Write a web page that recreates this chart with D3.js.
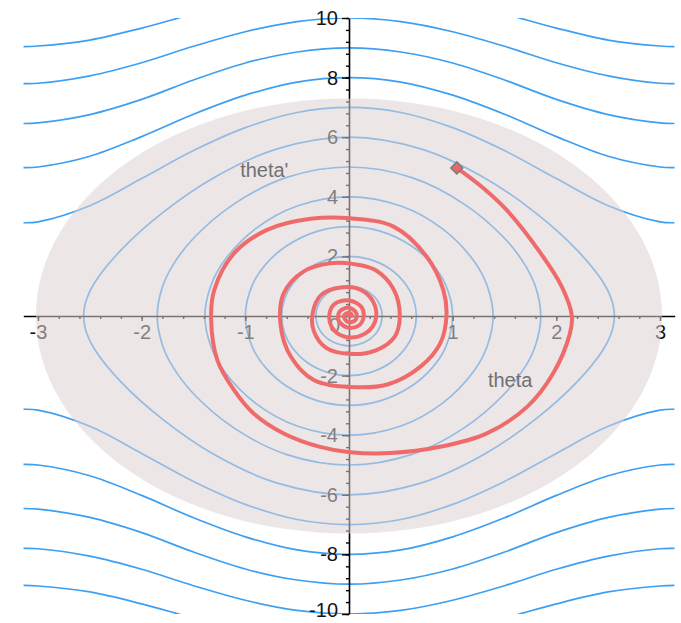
<!DOCTYPE html>
<html>
<head>
<meta charset="utf-8">
<script src="https://cdn.jsdelivr.net/npm/d3@7"></script>
<style>
  html, body { margin: 0; padding: 0; background: #fff; }
  svg { display: block; }
  text { font-family: "Liberation Sans", Arial, sans-serif; }
</style>
</head>
<body>
<svg width="681" height="623"></svg>
<script>
// tick values on the two axes
const xTicks = [-3, -2, -1, 1, 2, 3];
const yTicks = [-10, -8, -6, -4, -2, 2, 4, 6, 8, 10];

// closed level curves, one quadrant each: [theta, theta'] from the theta' axis to the theta axis
const closedCurves = [
  [[0, 1], [0.15, 0.88], [0.25, 0.63], [0.30, 0.35], [0.32, 0]],
  [[0, 2], [0.2, 1.90], [0.4, 1.57], [0.55, 1.05], [0.62, 0.59], [0.65, 0]],
  [[0, 3], [0.3, 2.85], [0.6, 2.36], [0.8, 1.75], [0.93, 1.06], [1.0, 0]],
  [[0, 4], [0.5, 3.69], [0.9, 2.93], [1.2, 1.87], [1.33, 1.04], [1.39, 0]],
  [[0, 5], [0.6, 4.65], [1.1, 3.78], [1.5, 2.61], [1.7, 1.70], [1.8, 0.97], [1.85, 0]],
  [[0, 6], [0.7, 5.60], [1.3, 4.65], [1.8, 3.46], [2.2, 2.21], [2.45, 1.14], [2.53, 0.58], [2.56, 0]]
];

// open (rotating) level curves, right half of the upper branch: theta from 0 to pi
const openCurves = [
  [[0, 7], [0.5, 6.83], [1, 6.32], [1.5, 5.55], [2, 4.61], [2.5, 3.70], [3, 3.16], [3.1416, 3.13]],
  [[0, 8], [0.5, 7.85], [1, 7.41], [1.5, 6.77], [2, 6.02], [2.5, 5.36], [3, 5.00], [3.1416, 4.98]],
  [[0, 9], [0.5, 8.86], [1, 8.49], [1.5, 7.92], [2, 7.27], [2.5, 6.76], [3, 6.48], [3.1416, 6.46]],
  [[0, 10], [0.5, 9.88], [1, 9.54], [1.5, 9.05], [2, 8.50], [2.5, 8.06], [3, 7.81], [3.1416, 7.80]],
  [[0, 11], [0.5, 10.89], [1, 10.58], [1.5, 10.14], [2, 9.66], [2.5, 9.26], [3, 9.06], [3.1416, 9.04]]
];

// damped trajectory, starting at the diamond
const trajectory = [
  [1.04, 4.97], [1.30, 4.28], [1.52, 3.56], [1.85, 2.10], [2.05, 1.00], [2.15, 0.00],
  [2.13, -0.60], [1.97, -1.92], [1.72, -3.04], [1.33, -3.94], [0.88, -4.39], [0.40, -4.60],
  [0.01, -4.57], [-0.28, -4.39], [-0.63, -3.94], [-0.92, -3.27], [-1.11, -2.48], [-1.27, -1.48],
  [-1.33, -0.10],
  [-1.30, 0.87], [-1.11, 2.10], [-0.79, 2.89], [-0.37, 3.26], [0.01, 3.28], [0.43, 3.00],
  [0.75, 1.99], [0.91, 0.87], [0.94, 0.00], [0.88, -0.92], [0.69, -1.70], [0.37, -2.30],
  [0.01, -2.38], [-0.34, -2.15], [-0.56, -1.37], [-0.66, -0.30], [-0.63, 0.76], [-0.44, 1.49],
  [-0.18, 1.77], [0.05, 1.74], [0.25, 1.55], [0.43, 0.90], [0.49, 0.00], [0.44, -0.70],
  [0.26, -1.15], [0.00, -1.27], [-0.22, -1.07], [-0.34, -0.50], [-0.35, 0.10], [-0.27, 0.70],
  [-0.08, 0.96], [0.13, 0.85], [0.25, 0.35], [0.25, -0.20], [0.15, -0.60], [-0.02, -0.71],
  [-0.15, -0.45], [-0.19, 0.00], [-0.14, 0.40], [0.00, 0.52], [0.12, 0.30], [0.14, -0.05],
  [0.09, -0.33], [-0.02, -0.38], [-0.10, -0.15], [-0.09, 0.15], [0.00, 0.28], [0.07, 0.10],
  [0.06, -0.15], [-0.01, -0.20], [-0.05, 0.00], [0.00, 0.12], [0.03, 0.00], [0.00, 0.00]
];
const startPoint = [1.04, 4.97];

// shaded region (half widths in data units)
const shade = { rx: 3.02, ry: 7.3 };

const svg = d3.select('svg');

// origin at (349,316), one theta unit ~103.7px, one theta' unit ~29.8px
const cx = 349, ux = 103.67;
const x = d3.scaleLinear().domain([-Math.PI, Math.PI]).range([cx - Math.PI * ux, cx + Math.PI * ux]);
const y = d3.scaleLinear().domain([-10, 10]).range([614, 18]);

svg.append('clipPath').attr('id', 'plot')
  .append('rect')
  .attr('x', x(-Math.PI)).attr('y', y(10))
  .attr('width', x(Math.PI) - x(-Math.PI)).attr('height', y(-10) - y(10));

//mirror one quadrant into a closed loop
function closedLoop(half) {
  const right = half;
  const bottomRight = half.slice(0, -1).reverse().map(([t, v]) => [t, -v]);
  const bottomLeft = half.slice(1).map(([t, v]) => [-t, -v]);
  const topLeft = half.slice(1, -1).reverse().map(([t, v]) => [-t, v]);
  return right.concat(bottomRight, bottomLeft, topLeft);
}
//mirror half of an open branch across theta = 0, sign picks upper/lower branch
function openBranch(half, sign) {
  const left = half.slice(1).reverse().map(([t, v]) => [-t, sign * v]);
  return left.concat(half.map(([t, v]) => [t, sign * v]));
}

const closedLine = d3.line().x(d => x(d[0])).y(d => y(d[1])).curve(d3.curveCatmullRomClosed.alpha(0.5));
const openLine = d3.line().x(d => x(d[0])).y(d => y(d[1])).curve(d3.curveCatmullRom.alpha(0.5));

const curves = svg.append('g').attr('clip-path', 'url(#plot)')
  .attr('fill', 'none').attr('stroke', '#3d9ff2').attr('stroke-width', 1.7);

curves.selectAll('path.closed')
  .data(closedCurves)
  .enter().append('path')
  .attr('class', 'closed')
  .attr('d', d => closedLine(closedLoop(d)));

const branches = [];
openCurves.forEach(c => { branches.push(openBranch(c, 1)); branches.push(openBranch(c, -1)); });
curves.selectAll('path.open')
  .data(branches)
  .enter().append('path')
  .attr('class', 'open')
  .attr('d', d => openLine(d));

// axes
const axes = svg.append('g');

axes.append('g')
  .attr('transform', 'translate(0,' + y(0) + ')')
  .call(d3.axisBottom(x).tickValues(xTicks).tickSize(5).tickSizeOuter(0).tickPadding(4).tickFormat(d => String(d)));
axes.append('g')
  .attr('transform', 'translate(0,' + y(0) + ')')
  .call(d3.axisBottom(x).tickValues(d3.range(-3, 3.01, 0.2)).tickSize(3).tickSizeOuter(0).tickFormat(''))
  .select('.domain').remove();

axes.append('g')
  .attr('transform', 'translate(' + x(0) + ',0)')
  .call(d3.axisLeft(y).tickValues(yTicks).tickSize(7).tickSizeOuter(0).tickPadding(4).tickFormat(d => String(d)))
  .selectAll('.tick text')
  .attr('dy', d => d === -10 ? '0.12em' : '0.32em');
axes.append('g')
  .attr('transform', 'translate(' + x(0) + ',0)')
  .call(d3.axisLeft(y).tickValues(d3.range(-10, 10.01, 0.4)).tickSize(3).tickSizeOuter(0).tickFormat(''))
  .select('.domain').remove();

axes.selectAll('.domain').attr('stroke', '#000').attr('stroke-width', 1.6);
axes.selectAll('.tick line').attr('stroke', '#000').attr('stroke-width', 1.4);
axes.selectAll('.tick text')
  .attr('fill', '#151515')
  .style('font-size', '20px')
  .style('font-family', '"Liberation Sans", Arial, sans-serif');

axes.append('text')
  .attr('x', x(0) - 9).attr('y', y(0) + 16)
  .attr('text-anchor', 'end')
  .attr('fill', '#151515')
  .style('font-size', '20px')
  .text('0');

// translucent shaded region over curves and axes
svg.append('ellipse')
  .attr('cx', x(0)).attr('cy', y(0))
  .attr('rx', x(shade.rx) - x(0)).attr('ry', y(0) - y(shade.ry))
  .attr('fill', 'rgb(220,209,211)')
  .attr('fill-opacity', 0.55);

// trajectory
svg.append('path')
  .datum(trajectory)
  .attr('fill', 'none')
  .attr('stroke', '#ef6b6b')
  .attr('stroke-width', 4)
  .attr('stroke-linejoin', 'round')
  .attr('stroke-linecap', 'round')
  .attr('d', openLine);

svg.append('path')
  .attr('d', d3.symbol(d3.symbolSquare, 72)())
  .attr('transform', 'translate(' + x(startPoint[0]) + ',' + y(startPoint[1]) + ') rotate(45)')
  .attr('fill', '#e96767')
  .attr('stroke', '#7d7d7d')
  .attr('stroke-width', 1.5);

// axis names
svg.append('text')
  .attr('x', x(-1.05)).attr('y', y(4.66))
  .attr('fill', '#707070').style('font-size', '20px')
  .text("theta'");
svg.append('text')
  .attr('x', x(1.34)).attr('y', y(-2.38))
  .attr('fill', '#707070').style('font-size', '20px')
  .text('theta');
</script>
</body>
</html>
